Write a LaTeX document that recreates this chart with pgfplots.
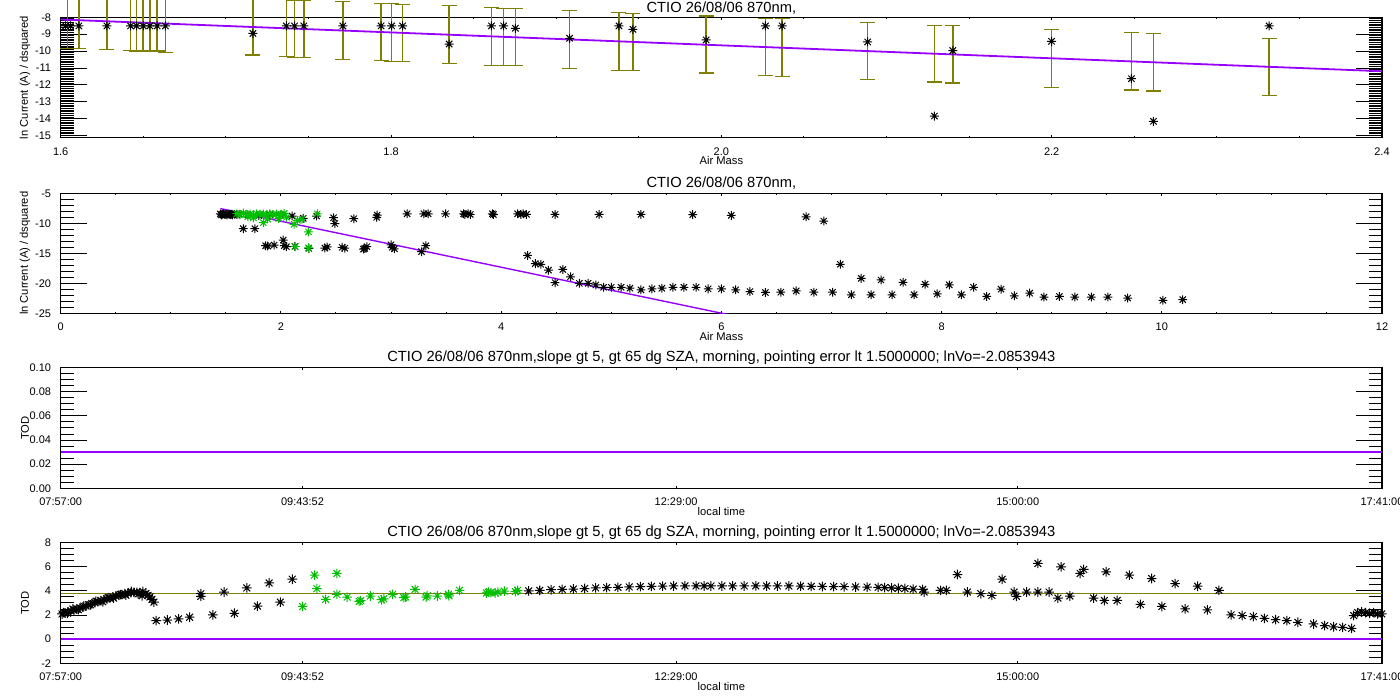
\documentclass[border=0pt]{standalone}
\usepackage{fontspec}
\setmainfont{Liberation Sans}
\usepackage{pgfplots}
\pgfplotsset{compat=1.18}
\definecolor{idlpurple}{RGB}{150,0,255}
\definecolor{idlolive}{RGB}{128,128,0}
\definecolor{idlgreen}{RGB}{0,190,0}
\pgfdeclareplotmark{idl}{%
 \pgfpathmoveto{\pgfqpoint{-\pgfplotmarksize}{0pt}}\pgfpathlineto{\pgfqpoint{\pgfplotmarksize}{0pt}}%
 \pgfpathmoveto{\pgfqpoint{0pt}{-\pgfplotmarksize}}\pgfpathlineto{\pgfqpoint{0pt}{\pgfplotmarksize}}%
 \pgfpathmoveto{\pgfqpoint{-.707\pgfplotmarksize}{-.707\pgfplotmarksize}}\pgfpathlineto{\pgfqpoint{.707\pgfplotmarksize}{.707\pgfplotmarksize}}%
 \pgfpathmoveto{\pgfqpoint{-.707\pgfplotmarksize}{.707\pgfplotmarksize}}\pgfpathlineto{\pgfqpoint{.707\pgfplotmarksize}{-.707\pgfplotmarksize}}%
 \pgfusepathqstroke}
\pgfplotsset{idlax/.style={scale only axis, width=660.65pt, anchor=south west,
  axis line style={line width=0.6pt},
  every tick/.style={black, line width=0.5pt},
  tick align=inside,
  xtick style={/pgfplots/major tick length=1.25pt,/pgfplots/minor tick length=0.8pt},
  ytick style={/pgfplots/major tick length=13pt,/pgfplots/minor tick length=6.5pt},
  ticklabel style={font=\fontsize{5.5}{6.5}\selectfont},
  label style={font=\fontsize{5.6}{6.5}\selectfont},
  title style={font=\fontsize{7.35}{8.5}\selectfont, inner sep=0pt, at={(0.5,1)}, anchor=center, yshift=-1pt},
  /pgf/number format/assume math mode=true,
  xticklabel style={yshift=-1.3pt},
  yticklabel style={xshift=-1.3pt},
  xlabel style={at={(axis description cs:0.5,0)}, anchor=center, yshift=-11.5pt},
  ylabel style={at={(axis description cs:-0.027,0.5)}, anchor=center},
  scaled ticks=false},
 star/.style={only marks, mark=idl, mark size=2.2pt, line width=0.5pt}}
\begin{document}
\begin{tikzpicture}
\path[use as bounding box] (0,0) rectangle (700pt,350pt);
% ---------- Panel 1
\begin{axis}[idlax, at={(30.35pt,281.15pt)}, height=60.2pt, clip=false,
  xmin=1.6, xmax=2.4, ymin=-15.12, ymax=-8,
  xtick={1.6,1.8,2.0,2.2,2.4}, minor x tick num=3,
  xticklabel style={/pgf/number format/.cd, fixed, fixed zerofill, precision=1},
  ytick={-15,-14,-13,-12,-11,-10,-9,-8}, minor y tick num=9,
  title style={yshift=-0.5pt},
  title={CTIO 26/08/06 870nm,}, xlabel={Air Mass}, ylabel={ln Current (A) / dsquared}]
% error bars: (x, lower end) (x, upper end), segments separated by nan
\addplot[idlolive, line width=0.8pt, mark=-, mark size=3.75pt, mark options={solid, line width=0.7pt},
  unbounded coords=jump, forget plot] coordinates {
 (1.604,-9.83)(1.604,-6.45)(1.604,nan)
 (1.611,-9.83)(1.611,-6.45)(1.611,nan)
 (1.628,-9.89)(1.628,-6.51)(1.628,nan)
 (1.6423,-9.95)(1.6423,-6.57)(1.6423,nan)
 (1.6459,-9.99)(1.6459,-6.61)(1.6459,nan)
 (1.6500,-9.99)(1.6500,-6.61)(1.6500,nan)
 (1.6540,-9.99)(1.6540,-6.61)(1.6540,nan)
 (1.6584,-9.99)(1.6584,-6.61)(1.6584,nan)
 (1.6634,-10.07)(1.6634,-6.69)(1.6634,nan)
 (1.7164,-10.23)(1.7164,-6.85)(1.7164,nan)
 (1.7366,-10.31)(1.7366,-6.93)(1.7366,nan)
 (1.7416,-10.37)(1.7416,-6.99)(1.7416,nan)
 (1.7472,-10.37)(1.7472,-7.01)(1.7472,nan)
 (1.7708,-10.49)(1.7708,-7.07)(1.7708,nan)
 (1.7940,-10.54)(1.7940,-7.17)(1.7940,nan)
 (1.8004,-10.60)(1.8004,-7.17)(1.8004,nan)
 (1.8070,-10.60)(1.8070,-7.23)(1.8070,nan)
 (1.8352,-10.72)(1.8352,-7.31)(1.8352,nan)
 (1.8608,-10.84)(1.8608,-7.41)(1.8608,nan)
 (1.8682,-10.84)(1.8682,-7.47)(1.8682,nan)
 (1.8753,-10.84)(1.8753,-7.47)(1.8753,nan)
 (1.9081,-11.02)(1.9081,-7.61)(1.9081,nan)
 (1.9380,-11.14)(1.9380,-7.70)(1.9380,nan)
 (1.9465,-11.14)(1.9465,-7.76)(1.9465,nan)
 (1.9908,-11.29)(1.9908,-7.92)(1.9908,nan)
 (2.0267,-11.43)(2.0267,-8.06)(2.0267,nan)
 (2.0368,-11.49)(2.0368,-8.06)(2.0368,nan)
 (2.0886,-11.67)(2.0886,-8.30)(2.0886,nan)
 (2.1290,-11.83)(2.1290,-8.47)(2.1290,nan)
 (2.1401,-11.89)(2.1401,-8.47)(2.1401,nan)
 (2.1999,-12.14)(2.1999,-8.71)(2.1999,nan)
 (2.2483,-12.30)(2.2483,-8.89)(2.2483,nan)
 (2.2616,-12.36)(2.2616,-8.95)(2.2616,nan)
 (2.3316,-12.62)(2.3316,-9.24)
 };
\addplot[idlpurple, line width=0.9pt] coordinates {(1.6,-8.13) (2.4,-11.19)};
\addplot[star, black, mark size=2.25pt] coordinates {
 (1.603,-8.51)(1.606,-8.51)(1.611,-8.51)(1.628,-8.51)(1.6423,-8.51)(1.6459,-8.51)
 (1.65,-8.51)(1.654,-8.51)(1.6584,-8.51)(1.6634,-8.51)(1.7164,-8.95)(1.7366,-8.51)
 (1.7416,-8.51)(1.7472,-8.51)(1.7708,-8.51)(1.794,-8.51)(1.8004,-8.51)(1.807,-8.51)
 (1.8352,-9.58)(1.8608,-8.51)(1.8682,-8.51)(1.8753,-8.65)(1.9081,-9.24)(1.938,-8.51)
 (1.9465,-8.71)(1.9908,-9.34)(2.0267,-8.51)(2.0368,-8.51)(2.0886,-9.46)(2.129,-13.84)
 (2.1401,-9.97)(2.1999,-9.42)(2.2483,-11.63)(2.2616,-14.15)(2.3316,-8.51)};
\end{axis}
% ---------- Panel 2
\begin{axis}[idlax, at={(30.35pt,193.35pt)}, height=60pt,
  xmin=0, xmax=12, ymin=-25, ymax=-5,
  xtick={0,2,4,6,8,10,12}, minor x tick num=3,
  ytick={-25,-20,-15,-10,-5}, minor y tick num=4,
  title={CTIO 26/08/06 870nm,}, xlabel={Air Mass}, ylabel={ln Current (A) / dsquared}]
\addplot[star, black] coordinates {
 (1.45,-8.45)(1.46,-8.6)(1.47,-8.5)(1.48,-8.4)(1.49,-8.55)(1.50,-8.5)(1.51,-8.6)(1.52,-8.45)
 (1.53,-8.5)(1.54,-8.55)(1.55,-8.5)(1.56,-8.6)(1.58,-8.5)(1.60,-8.55)(1.62,-8.5)
 (1.658,-10.9)(1.763,-10.9)
 (1.861,-13.74)(1.88,-13.8)(1.939,-13.63)(2.03,-13.74)(2.021,-12.8)(2.05,-13.9)(2.127,-13.85)
 (2.254,-14.18)(2.399,-14.12)(2.42,-13.95)(2.556,-14.01)(2.58,-14.15)(2.762,-14.18)(2.78,-13.9)
 (2.75,-14.3)(3.010,-14.01)(3.0,-13.6)(3.03,-14.25)(3.277,-14.73)(3.316,-13.74)
 (1.7,-8.6)(1.8,-8.7)(1.9,-8.6)(2.0,-8.65)(2.102,-8.79)(2.202,-9.18)(2.324,-8.79)(2.478,-9.07)
 (2.49,-10.05)(2.662,-9.23)(2.874,-8.63)(2.87,-9.0)(3.146,-8.41)(3.298,-8.41)(3.337,-8.41)
 (3.495,-8.41)(3.66,-8.41)(3.67,-8.52)(3.70,-8.41)(3.72,-8.52)(3.92,-8.41)(3.93,-8.55)(4.15,-8.41)
 (4.18,-8.52)(4.2,-8.41)(4.23,-8.52)(4.49,-8.52)(4.89,-8.52)(5.27,-8.52)(5.74,-8.55)(6.09,-8.69)
 (6.77,-8.91)(6.93,-9.62)
 (4.24,-15.36)(4.31,-16.72)(4.36,-16.83)(4.43,-17.81)(4.49,-19.89)(4.56,-17.70)(4.63,-18.91)
 (4.71,-20.0)(4.79,-20.0)(4.86,-20.27)(4.93,-20.66)(5.0,-20.66)(5.09,-20.66)(5.17,-20.82)
 (5.27,-21.09)(5.37,-20.93)(5.46,-20.82)(5.56,-20.66)(5.66,-20.66)(5.77,-20.66)
 (5.88,-20.93)(6.0,-20.93)(6.13,-21.09)(6.26,-21.37)(6.40,-21.53)(6.54,-21.48)(6.68,-21.26)
 (6.84,-21.48)(7.01,-21.48)(7.08,-16.83)(7.18,-21.91)(7.27,-19.18)(7.36,-21.91)(7.45,-19.45)
 (7.55,-21.91)(7.65,-19.84)(7.75,-21.91)(7.85,-20.16)(7.96,-21.75)(8.07,-20.27)(8.18,-21.91)
 (8.29,-20.66)(8.41,-22.19)(8.54,-20.98)(8.66,-22.08)(8.80,-21.64)(8.93,-22.30)(9.07,-22.19)
 (9.21,-22.30)(9.36,-22.30)(9.51,-22.30)(9.69,-22.46)(10.01,-22.84)(10.19,-22.73)};
\addplot[star, idlgreen] coordinates {
 (1.6,-8.4)(1.63,-8.55)(1.66,-8.3)(1.69,-8.5)(1.72,-8.45)(1.75,-8.6)(1.78,-8.4)(1.81,-8.5)
 (1.84,-8.45)(1.87,-8.6)(1.9,-8.4)(1.93,-8.55)(1.96,-8.45)(2.0,-8.5)(2.03,-8.35)(1.7,-8.9)
 (1.75,-9.1)(1.84,-9.9)(1.88,-9.3)(1.98,-9.2)(2.05,-9.0)(2.12,-10.16)(2.25,-11.45)(2.33,-8.41)
 (2.13,-13.9)(2.25,-14.1)(2.19,-9.34)(2.15,-9.5)};
\addplot[idlpurple, line width=0.7pt] coordinates {(1.45,-7.55) (6.08,-25.29)};
\end{axis}
% ---------- Panel 3
\begin{axis}[idlax, at={(30.35pt,105.85pt)}, height=60.3pt,
  xmin=7.95, xmax=17.68333, ymin=0, ymax=0.1,
  xtick={7.95,9.73111,12.48333,15,17.68333},
  xticklabels={07:57:00,09:43:52,12:29:00,15:00:00,17:41:00},
  ytick={0,0.02,0.04,0.06,0.08,0.10}, minor y tick num=3,
  yticklabel style={/pgf/number format/.cd, fixed, fixed zerofill, precision=2},
  title={CTIO 26/08/06 870nm,slope gt 5, gt 65 dg SZA, morning, pointing error lt 1.5000000; lnVo=-2.0853943},
  xlabel={local time}, ylabel={TOD}]
\addplot[idlpurple, line width=0.8pt] coordinates {(7.95,0.03) (17.68333,0.03)};
\end{axis}
% ---------- Panel 4
\begin{axis}[idlax, at={(30.35pt,18.35pt)}, height=60.3pt,
  xmin=7.95, xmax=17.68333, ymin=-2, ymax=8,
  xtick={7.95,9.73111,12.48333,15,17.68333},
  xticklabels={07:57:00,09:43:52,12:29:00,15:00:00,17:41:00},
  ytick={-2,0,2,4,6,8}, minor y tick num=3,
  title={CTIO 26/08/06 870nm,slope gt 5, gt 65 dg SZA, morning, pointing error lt 1.5000000; lnVo=-2.0853943},
  xlabel={local time}, ylabel={TOD}]
\addplot[star, black, mark size=2.4pt] coordinates {
 (7.9596,2.09)(7.9817,2.17)(8.0037,2.25)(8.0258,2.35)(8.0479,2.43)(8.0700,2.50)(8.0921,2.58)
 (8.1142,2.66)(8.1363,2.75)(8.1583,2.86)(8.1804,2.94)(8.2025,3.03)(8.2246,3.12)(8.2467,3.20)
 (8.2688,3.27)(8.2909,3.35)(8.3130,3.43)(8.3350,3.50)(8.3571,3.58)(8.3792,3.64)(8.4013,3.70)
 (8.4234,3.77)(8.4455,3.82)(8.4676,3.86)(8.4896,3.88)(8.5117,3.87)(8.5338,3.85)(8.5559,3.95)
 (8.5780,3.80)(8.5927,3.63)(8.6075,3.50)(8.6222,3.30)(8.6369,3.07)
 (7.97,2.2)(8.0,2.15)(8.04,2.5)(8.08,2.45)(8.12,2.75)(8.17,2.85)(8.21,3.15)(8.26,3.1)(8.30,3.45)
 (8.34,3.4)(8.39,3.7)(8.43,3.65)(8.47,3.95)(8.52,3.75)(8.55,3.6)
 (8.6538,1.54)(8.7355,1.59)(8.818,1.68)(8.8997,1.82)(8.9822,3.55)(8.9822,3.77)(9.0705,2.01)
 (9.153,3.91)(9.2288,2.15)(9.3208,4.25)(9.3996,2.74)(9.485,4.66)(9.5674,3.07)(9.6558,4.97)
 (11.3977,4.0)(11.4788,4.05)(11.5619,4.1)(11.6444,4.13)(11.7269,4.16)(11.8086,4.2)(11.891,4.25)
 (11.972,4.27)(12.0552,4.3)(12.1377,4.33)(12.2194,4.36)(12.3018,4.38)(12.3843,4.40)(12.4653,4.41)
 (12.5484,4.42)(12.6302,4.42)(12.6898,4.41)(12.74,4.41)(12.821,4.41)(12.90,4.41)(12.9851,4.41)
 (13.07,4.42)(13.15,4.41)(13.23,4.41)(13.3142,4.41)(13.40,4.40)(13.4784,4.38)(13.56,4.37)
 (13.6433,4.36)(13.72,4.35)(13.8053,4.33)(13.89,4.32)(13.9717,4.30)(14.02,4.28)(14.0703,4.25)
 (14.12,4.22)(14.169,4.20)(14.23,4.15)(14.30,4.13)(14.31,3.91)(14.4311,4.05)(14.4745,4.05)
 (14.5559,5.36)(14.629,3.91)(14.7276,3.77)(14.8093,3.63)(14.8852,4.97)(14.9735,3.91)(14.9905,3.55)
 (15.0656,3.91)(15.148,6.28)(15.148,3.91)(15.2305,3.91)(15.296,3.41)(15.3188,6.0)(15.3843,3.58)
 (15.4601,5.45)(15.486,5.78)(15.5589,3.41)(15.638,3.21)(15.651,5.59)(15.7327,3.21)(15.8219,5.31)
 (15.9034,2.88)(15.9859,5.03)(16.061,2.71)(16.1596,4.61)(16.2326,2.51)(16.3246,4.39)(16.3968,2.43)
 (16.4822,4.05)(16.5712,2.01)(16.653,1.96)(16.7355,1.87)(16.8172,1.73)(16.8997,1.62)(16.9814,1.54)
 (17.0638,1.40)(17.1787,1.26)(17.2611,1.12)(17.3267,1.03)(17.3929,0.98)(17.4585,0.89)(17.4747,1.96)
 (17.5041,2.2)(17.5336,2.25)(17.563,2.2)(17.5925,2.15)(17.622,2.2)(17.6514,2.1)(17.681,2.1)};
\addplot[star, idlgreen, mark size=2.4pt] coordinates {
 (9.7316,2.71)(9.82,5.31)(9.8369,4.19)(9.9024,3.30)(9.9842,5.45)(9.9842,3.72)(10.06,3.49)
 (10.149,3.13)(10.16,3.2)(10.2308,3.58)(10.3132,3.27)(10.33,3.35)(10.3957,3.72)(10.4774,3.44)
 (10.49,3.5)(10.5599,4.13)(10.6416,3.49)(10.65,3.6)(10.724,3.58)(10.8065,3.72)(10.81,3.6)
 (10.8883,4.05)(11.0855,3.83)(11.10,3.9)(11.118,3.86)(11.151,3.83)(11.17,3.9)(11.2174,3.99)
 (11.30,3.95)(11.316,4.05)};
\addplot[idlpurple, line width=0.8pt] coordinates {(7.95,0) (17.68333,0)};
\addplot[idlolive, line width=0.6pt] coordinates {(7.95,3.78) (17.68333,3.78)};
\end{axis}
\end{tikzpicture}
\end{document}
